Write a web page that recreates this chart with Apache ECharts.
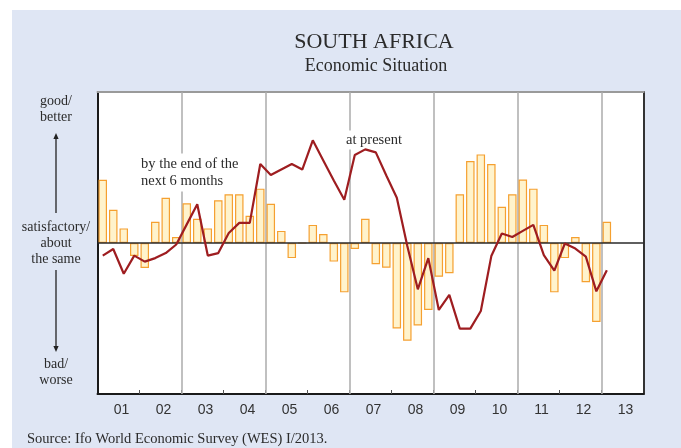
<!DOCTYPE html>
<html>
<head>
<meta charset="utf-8">
<title>South Africa – Economic Situation</title>
<script src="https://cdn.jsdelivr.net/npm/echarts@6/dist/echarts.min.js"></script>
<style>
  html, body { margin: 0; padding: 0; background: #ffffff; }
  #chart { width: 681px; height: 448px; }
</style>
</head>
<body>
<div id="chart"></div>
<script>
// Year labels on the time axis (2001 … 2013)
const yearLabels = ['01','02','03','04','05','06','07','08','09','10','11','12','13'];

// Present economic situation, quarterly balance (2001 Q1 … 2013 Q1) – bars
const presentSituation = [
  62.8, 33, 14.5, -12.8,
  -24.8, 21, 45, 6,
  39.5, 24, 14.5, 42.5,
  48.5, 48.5, 27, 54,
  39, 12, -15, 0,
  18, 9, -18.5, -49,
  -6, 24, -21, -24.5,
  -85, -97, -82, -66.5,
  -33.5, -30, 48.5, 81.5,
  88, 78.5, 36, 48.5,
  63, 54, 18, -49,
  -15, 6, -39, -78.5,
  21
];

// Expectations for the next 6 months, quarterly balance – line
const expectations = [
  -12.5, -6, -30.5, -12.5,
  -18.5, -15, -10, -1.5,
  18.5, 38.5, -12.5, -10,
  10, 20, 20, 78.5,
  67.5, 73, 78.5, 73,
  102, 82, 62, 43,
  87.5, 93, 90, 67,
  45, -3, -46, -15,
  -66.5, -51.5, -85, -85,
  -67.5, -13, 9.5, 6,
  12, 18, -12, -27.5,
  -0.5, -5.5, -13.5, -48,
  -27
];

// Year boundaries drawn as grey guides (in quarters from Q1 2001)
const guideQuarters = [8, 16, 24, 32, 40, 48];

const chart = echarts.init(document.getElementById('chart'), null, { renderer: 'canvas' });

const serif = 'Liberation Serif';
const sans = 'Liberation Sans';

const tickValues = [];
for (let q = 4; q <= 48; q += 4) tickValues.push(q);
const labelValues = yearLabels.map((_, i) => i * 4 + 2);

const barData = presentSituation.map((v, i) => [i + 0.5, v]);
const lineData = expectations.map((v, i) => [i + 0.5, v]);

// Arrow helper for the qualitative scale on the left
function arrow(x, yFrom, yTo) {
  const dir = yTo < yFrom ? -1 : 1;
  const headLen = 6, headHalf = 2.6;
  return [
    { type: 'line', shape: { x1: x, y1: yFrom, x2: x, y2: yTo - dir * headLen },
      style: { stroke: '#222', lineWidth: 1.3 }, silent: true },
    { type: 'polygon', shape: { points: [[x, yTo], [x - headHalf, yTo - dir * headLen], [x + headHalf, yTo - dir * headLen]] },
      style: { fill: '#222' }, silent: true }
  ];
}

function txt(x, y, text, size, align, extra) {
  return {
    type: 'text', x: x, y: y, silent: true, z: 3,
    style: Object.assign({ text: text, font: size + 'px "' + serif + '"', fill: '#2b2b2b',
             align: align || 'center', verticalAlign: 'middle' }, extra || {})
  };
}

// annotations inside the plot sit on a white box that hides the guides behind them
const boxed = { backgroundColor: '#ffffff', padding: [2, 3] };

const option = {
  backgroundColor: '#ffffff',
  animation: false,
  grid: { left: 97.5, right: 37.4, top: 92, bottom: 54, show: true, backgroundColor: '#ffffff', borderWidth: 0 },
  xAxis: [
    {
      type: 'value', min: 0, max: 52, position: 'bottom',
      axisLine: { show: true, onZero: false, lineStyle: { color: '#1a1a1a', width: 2 } },
      axisTick: { show: true, inside: true, length: 4, customValues: tickValues, lineStyle: { color: '#555', width: 1 } },
      axisLabel: {
        show: true, customValues: labelValues, margin: 9,
        formatter: v => yearLabels[Math.round((v - 2) / 4)],
        fontFamily: sans, fontSize: 14, color: '#333', padding: [0, 0, 0, 6]
      },
      splitLine: { show: false }
    },
    {
      type: 'value', min: 0, max: 52, position: 'top',
      axisLine: { show: true, onZero: false, lineStyle: { color: '#9a9a9a', width: 2 } },
      axisTick: { show: false }, axisLabel: { show: false }, splitLine: { show: false }
    }
  ],
  yAxis: [
    {
      type: 'value', min: -150, max: 150, position: 'left',
      axisLine: { show: true, onZero: false, lineStyle: { color: '#1a1a1a', width: 2 } },
      axisTick: { show: false }, axisLabel: { show: false }, splitLine: { show: false }
    },
    {
      type: 'value', min: -150, max: 150, position: 'right',
      axisLine: { show: true, onZero: false, lineStyle: { color: '#333', width: 2 } },
      axisTick: { show: false }, axisLabel: { show: false }, splitLine: { show: false }
    }
  ],
  series: [
    {
      // grey year guides
      type: 'line', data: [], silent: true, z: 1,
      markLine: {
        z: 1, silent: true, symbol: 'none', label: { show: false },
        lineStyle: { color: '#ababab', width: 1.5, type: 'solid' },
        data: guideQuarters.map(q => ({ xAxis: q }))
      }
    },
    {
      name: 'present', type: 'bar', data: barData, barWidth: 8.5, z: 2,
      itemStyle: { color: '#fff3cc', borderColor: '#f5a030', borderWidth: 1.2 },
      markLine: {
        z: 4, silent: true, symbol: 'none', label: { show: false },
        lineStyle: { color: '#2a2a2a', width: 1.5, type: 'solid' },
        data: [{ yAxis: 0 }]
      }
    },
    {
      name: 'next 6 months', type: 'line', data: lineData, showSymbol: false, symbol: 'none',
      lineStyle: { color: '#9e1d20', width: 2.2 }, z: 5
    }
  ],
  graphic: [
    { type: 'rect', shape: { x: 12, y: 10, width: 669, height: 438 }, style: { fill: '#dfe6f4' }, z: -10, silent: true },
    txt(374, 42, 'SOUTH AFRICA', 22),
    txt(376, 66, 'Economic Situation', 18),
    txt(138, 172.5, 'by the end of the\nnext 6 months', 14.5, 'left', Object.assign({ lineHeight: 17 }, boxed)),
    txt(343, 140, 'at present', 14.5, 'left', boxed),
    txt(56, 101, 'good/', 14),
    txt(56, 117, 'better', 14),
    txt(56, 227, 'satisfactory/', 14),
    txt(56, 243, 'about', 14),
    txt(56, 259, 'the same', 14),
    txt(56, 364, 'bad/', 14),
    txt(56, 380, 'worse', 14),
    txt(27, 439, 'Source: Ifo World Economic Survey (WES) I/2013.', 14.5, 'left')
  ].concat(arrow(56, 213, 133), arrow(56, 270, 352))
};

chart.setOption(option);
</script>
</body>
</html>
